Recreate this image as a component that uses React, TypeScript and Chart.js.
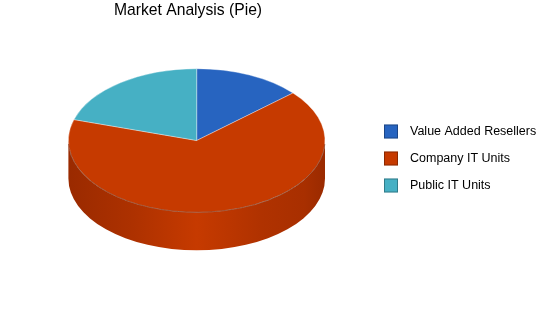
import React, { useEffect, useRef } from "react";
import { Chart, registerables } from "chart.js";

Chart.register(...registerables);

const categories = ["Value Added Resellers", "Company IT Units", "Public IT Units"];
const values = [13.5, 66.2, 20.3];
const colors = ["#2764C0", "#C63A00", "#46B0C4"];
const sideDark = ["#1B4A90", "#9A2A00", "#2F8596"];
const titleText = "Market Analysis (Pie)";

const FONT = '"Liberation Sans", Arial, Helvetica, sans-serif';

// view geometry for the tilted pie
const VIEW = { cx: 196.7, cy: 140.5, rx: 128.3, ry: 71.8, depth: 38 };

function sideRanges(s: number, e: number): Array<[number, number]> {
  const out: Array<[number, number]> = [];
  for (const k of [-2, -1, 0, 1, 2]) {
    const a = Math.max(s + k * 2 * Math.PI, 0);
    const b = Math.min(e + k * 2 * Math.PI, Math.PI);
    if (b > a) out.push([a, b]);
  }
  return out;
}

const pie3d = {
  id: "pie3d",
  beforeDatasetsDraw(chart: any) {
    const ctx = chart.ctx as CanvasRenderingContext2D;
    const meta = chart.getDatasetMeta(0);
    const { cx, cy, rx, ry, depth } = VIEW;
    ctx.save();
    meta.data.forEach((arc: any, i: number) => {
      const ranges = sideRanges(arc.startAngle, arc.endAngle);
      ranges.forEach(([a, b]) => {
        const g = ctx.createLinearGradient(cx - rx, 0, cx + rx, 0);
        g.addColorStop(0, sideDark[i]);
        g.addColorStop(0.25, i === 1 ? "#AD3100" : sideDark[i]);
        g.addColorStop(0.5, colors[i]);
        g.addColorStop(0.75, i === 1 ? "#B03200" : sideDark[i]);
        g.addColorStop(0.92, i === 1 ? "#A82F00" : sideDark[i]);
        g.addColorStop(1, sideDark[i]);
        ctx.beginPath();
        ctx.ellipse(cx, cy, rx, ry, 0, a, b, false);
        ctx.ellipse(cx, cy + depth, rx, ry, 0, b, a, true);
        ctx.closePath();
        ctx.fillStyle = g;
        ctx.fill();
      });
    });
    ctx.restore();
    const first = meta.data[0];
    ctx.save();
    ctx.translate(cx, cy);
    ctx.scale(1, ry / rx);
    ctx.translate(-first.x, -first.y);
  },
  afterDatasetsDraw(chart: any) {
    const ctx = chart.ctx as CanvasRenderingContext2D;
    ctx.restore();
    const { cx, cy, rx, ry } = VIEW;
    ctx.save();
    ctx.beginPath();
    ctx.ellipse(cx, cy, rx, ry, 0, 0.05, Math.PI - 0.05, false);
    ctx.strokeStyle = "rgba(110,30,0,0.55)";
    ctx.lineWidth = 1;
    ctx.stroke();
    ctx.restore();
  },
  afterDraw(chart: any) {
    const ctx = chart.ctx as CanvasRenderingContext2D;
    const labels = chart.data.labels as string[];
    const bg = chart.data.datasets[0].backgroundColor as string[];
    ctx.save();
    labels.forEach((lab, i) => {
      const y = 124.5 + i * 27;
      ctx.fillStyle = bg[i];
      ctx.fillRect(384, y, 14, 14);
      ctx.strokeStyle = "rgba(0,0,0,0.3)";
      ctx.lineWidth = 1;
      ctx.strokeRect(384.5, y + 0.5, 13, 13);
      ctx.fillStyle = "#000";
      ctx.font = `12.5px ${FONT}`;
      ctx.textBaseline = "middle";
      ctx.textAlign = "left";
      ctx.fillText(lab, 410, y + 7.5);
    });
    ctx.restore();
  },
};

export default function App() {
  const ref = useRef<HTMLCanvasElement | null>(null);
  useEffect(() => {
    document.body.style.margin = "0";
    const canvas = ref.current!;
    const chart = new Chart(canvas, {
      type: "pie",
      data: {
        labels: categories,
        datasets: [
          {
            data: values,
            backgroundColor: colors,
            borderColor: "rgba(255,255,255,0.45)",
            borderWidth: 1,
            radius: VIEW.rx,
            clip: false,
          } as any,
        ],
      },
      options: {
        responsive: false,
        animation: false,
        events: [],
        radius: VIEW.rx,
        layout: { padding: { right: 174 } },
        plugins: {
          legend: { display: false },
          tooltip: { enabled: false },
          title: {
            display: true,
            text: titleText,
            color: "#000",
            font: { family: FONT, size: 15.7, weight: "normal" },
            padding: { top: 1.5, bottom: 8 },
          },
        },
      } as any,
      plugins: [pie3d],
    });
    return () => chart.destroy();
  }, []);
  return (
    <div style={{ width: 550, height: 318, background: "#fff" }}>
      <canvas ref={ref} width={550} height={318} />
    </div>
  );
}
